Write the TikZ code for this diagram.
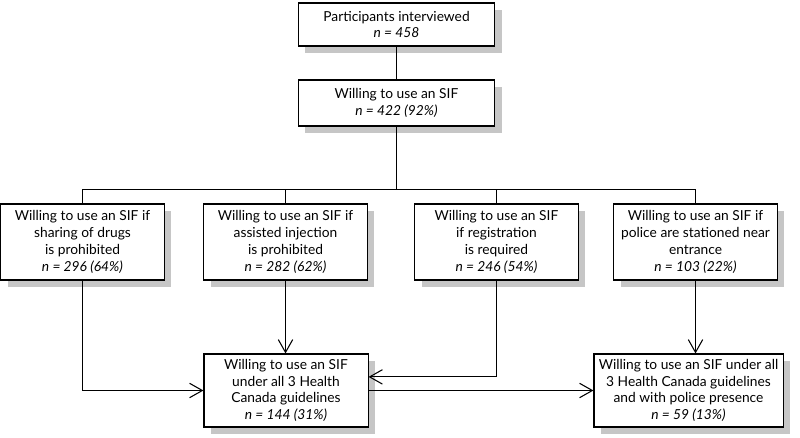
\documentclass[tikz,border=0pt]{standalone}
\usepackage{fontspec}
\setmainfont{Lato}
\usetikzlibrary{arrows.meta,positioning,shadows}

\begin{document}
\begin{tikzpicture}[x=0.025cm, y=-0.025cm,
  box/.style={draw, line width=0.75pt, fill=white, align=center, inner sep=2pt,
    font=\fontsize{9.8}{11.9}\selectfont,
    drop shadow={shadow xshift=0.175cm, shadow yshift=-0.175cm, fill=gray!45, opacity=1}},
  link/.style={line width=0.75pt},
  arr/.style={link, -{Straight Barb[length=3.2mm, width=3.6mm]}}]
  \useasboundingbox (0,0) rectangle (800,438);
  \node[box, minimum width=4.9cm, minimum height=1.075cm] (part) at (396.5,24.5) {Participants interviewed\\ \textit{n = 458}};
  \node[box, minimum width=4.9cm, minimum height=1.15cm] (will) at (396.5,103) {Willing to use an SIF\\ \textit{n = 422 (92\%)}};
  \foreach \name/\x/\txt in {drugs/82.5/{Willing to use an SIF if\\ sharing of drugs\\ is prohibited\\ \textit{n = 296 (64\%)}},
      assist/285.5/{Willing to use an SIF if\\ assisted injection\\ is prohibited\\ \textit{n = 282 (62\%)}},
      regist/496.5/{Willing to use an SIF\\ if registration\\ is required\\ \textit{n = 246 (54\%)}},
      police/695.5/{Willing to use an SIF if\\ police are stationed near\\ entrance\\ \textit{n = 103 (22\%)}}} {
    \node[box, minimum width=4.08cm, minimum height=1.9cm] (\name) at (\x,242) {\txt};
  }
  \node[box, minimum width=4.1cm, minimum height=1.825cm] (all3) at (286,390.5) {Willing to use an SIF\\ under all 3 Health\\ Canada guidelines\\ \textit{n = 144 (31\%)}};
  \node[box, minimum width=4.725cm, minimum height=1.825cm] (allpol) at (688.5,390.5) {Willing to use an SIF under all\\ 3 Health Canada guidelines\\ and with police presence\\ \textit{n = 59 (13\%)}};

  \coordinate (bar) at (396.5,189.5);
  \draw[link] (part) -- (will);
  \draw[link] (will) -- (bar);
  \draw[link] (drugs.north) |- (bar) -| (police.north);
  \foreach \n in {assist,regist} { \draw[link] (\n.north) -- (\n.north |- bar); }
  \draw[arr] (drugs.south) |- (all3.west);
  \draw[arr] (assist.south) -- (assist.south |- all3.north);
  \draw[arr] (regist.south) |- ([yshift=0.34cm]all3.east);
  \draw[arr] (all3.east) -- (allpol.west);
  \draw[arr] (police.south) -- (police.south |- allpol.north);
\end{tikzpicture}
\end{document}
